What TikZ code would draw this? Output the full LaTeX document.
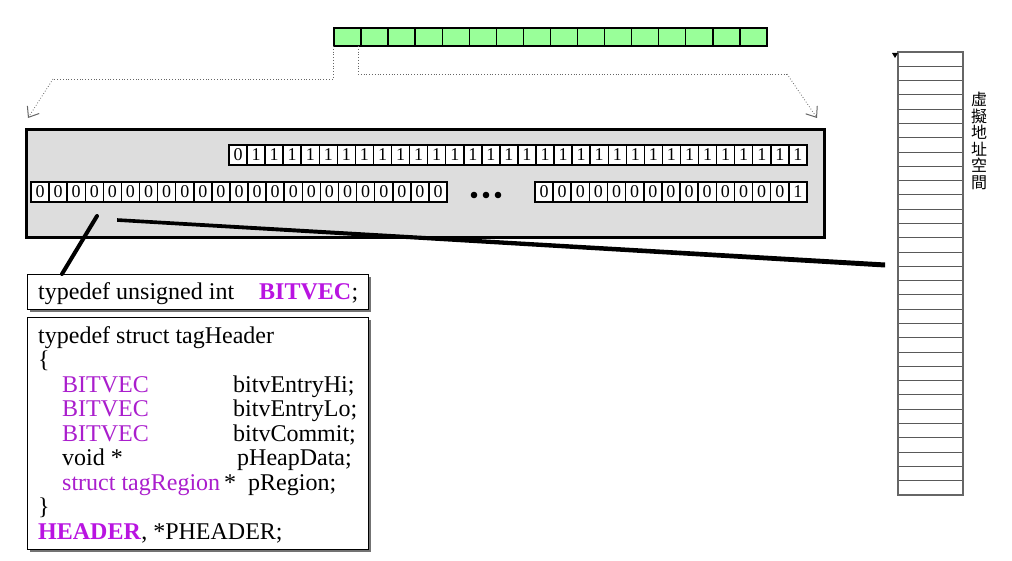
\documentclass[tikz,border=0pt]{standalone}
\usepackage{fontspec}
\setmainfont{Liberation Serif}
\newfontfamily\cjk{Noto Sans CJK TC}
\usetikzlibrary{arrows.meta,calc}
\definecolor{cpurple}{RGB}{170,30,205}
\definecolor{bpurple}{RGB}{185,20,225}
\definecolor{lgreen}{RGB}{153,255,153}
\definecolor{panelgray}{RGB}{221,221,221}
\begin{document}
\begin{tikzpicture}[x=1pt,y=-1pt,
  gcell/.style={draw=black, fill=lgreen, line width=1.4pt},
  bitcell/.style={draw=black, fill=white, line width=1.5pt, minimum width=18.06pt, minimum height=20pt, inner sep=0pt, font=\fontsize{18}{18}\selectfont},
  rowframe/.style={draw=black, line width=2.4pt},
  codebox/.style={draw=black, fill=white, line width=1.2pt},
  shadowbox/.style={fill=black!55},
  code/.style={anchor=base west, inner sep=0pt, font=\fontsize{24}{24.5}\selectfont},
  kw/.style={code, text=cpurple},
  kwb/.style={code, text=bpurple, font=\fontsize{24}{24.5}\selectfont\bfseries},
  guide/.style={draw=black!60, dotted, line width=0.8pt},
  guidearrow/.style={guide, -{Straight Barb[length=9pt,width=14pt,line width=1pt,sep=0pt]}},
  thick line/.style={line width=4pt, line cap=round},
  memrow/.style={draw=black!65, line width=1pt}
]
\useasboundingbox (0,0) rectangle (1012,561);

% green register at top
\foreach \i in {0,...,15}
  \draw[gcell] ({334+\i*27.06},28) rectangle ++(27.06,18);
\coordinate (gA) at (333,46);
\coordinate (gB) at (358,46);
\coordinate (lA) at (333,79);
\coordinate (lB) at (53,79);
\coordinate (rA) at (358,74);
\coordinate (rB) at (787,74);

% main gray panel
\node[draw=black, line width=2.6pt, fill=panelgray, minimum width=798pt, minimum height=108pt, anchor=north west, inner sep=0pt] (main) at (25,128) {};
\coordinate (arrL) at (28,118);
\coordinate (arrR) at (817,118);
\draw[guide] (gA) -- (lA) -- (lB);
\draw[guidearrow] (lB) -- (arrL);
\draw[guide] (gB) -- (rA) -- (rB);
\draw[guidearrow] (rB) -- (arrR);

% top bit row: 0 then 31 ones
\foreach \b [count=\i from 0] in {0,1,1,1,1,1,1,1,1,1,1,1,1,1,1,1,1,1,1,1,1,1,1,1,1,1,1,1,1,1,1,1}
  \node[bitcell] at ({229+\i*18.06+9.03},155) {\b};
\draw[rowframe] (229,145) rectangle (807,165);
% bottom-left row: 23 zeros
\foreach \i in {0,...,22}
  \node[bitcell] at ({31+\i*18.09+9.045},192) {0};
\draw[rowframe] (31,182) rectangle (447,202);
% bottom-right row: 14 zeros then 1
\foreach \b [count=\i from 0] in {0,0,0,0,0,0,0,0,0,0,0,0,0,0,1}
  \node[bitcell] at ({535+\i*18.13+9.065},192) {\b};
\draw[rowframe] (535,182) rectangle (807,202);
% ellipsis dots
\fill (474,195) circle (3.3);
\fill (486,195) circle (3.3);
\fill (498,195) circle (3.3);

% memory column
\foreach \i in {0,...,30}
  \draw[memrow] (898,{52+\i*14.29}) rectangle ++(65,14.29);
\draw[draw=black!60, line width=1.3pt] (898,52) rectangle (963,495);
\node[inner sep=0pt, minimum size=0pt] (mem) at (898,265) {};
\fill (892,53) -- (898,53) -- (895,58) -- cycle;
\node[inner sep=0pt, align=center, font=\cjk\fontsize{16}{16.5}\selectfont] (vlabel) at (979,141) {虛\\擬\\地\\址\\空\\間};

% code boxes with shadows
\fill[shadowbox] (30,277) rectangle (371,312);
\node[codebox, minimum width=341pt, minimum height=35pt, anchor=north west, inner sep=0pt] (tdef) at (27,274) {};
\fill[shadowbox] (30,320) rectangle (371,552);
\node[codebox, minimum width=341pt, minimum height=232pt, anchor=north west, inner sep=0pt] (sdef) at (27,317) {};

\node[code] (t1) at (38,300) {typedef unsigned int};
\node[kwb] (t2) at (259,300) {BITVEC};
\node[code] (t3) at (t2.base east) {;};

\node[code] (s1) at (38,343) {typedef struct tagHeader};
\node[code] (s2) at (38,367.5) {\{};
\node[kw] (s3a) at (62,392) {BITVEC};
\node[code] (s3b) at (233,392) {bitvEntryHi;};
\node[kw] (s4a) at (62,416.5) {BITVEC};
\node[code] (s4b) at (233,416.5) {bitvEntryLo;};
\node[kw] (s5a) at (62,441) {BITVEC};
\node[code] (s5b) at (233,441) {bitvCommit;};
\node[code] (s6a) at (62,465.5) {void *};
\node[code] (s6b) at (237,465.5) {pHeapData;};
\node[kw] (s7a) at (62,490) {struct tagRegion};
\node[code] (s7b) at (224,490) {*};
\node[code] (s7c) at (248,490) {pRegion;};
\node[code] (s8) at (38,514.5) {\}};
\node[kwb] (s9a) at (38,539) {HEADER};
\node[code] (s9b) at (s9a.base east) {, *PHEADER;};

% thick connectors
\coordinate (c1) at (62,274);
\coordinate (c1e) at (97,216);
\draw[thick line] (c1) -- (c1e);
\coordinate (c2) at (117,220);
\fill (c2) ++(0,-1.8) -- (885,262.5) -- (885,267.5) -- (117,221.8) -- cycle;
\end{tikzpicture}
\end{document}
